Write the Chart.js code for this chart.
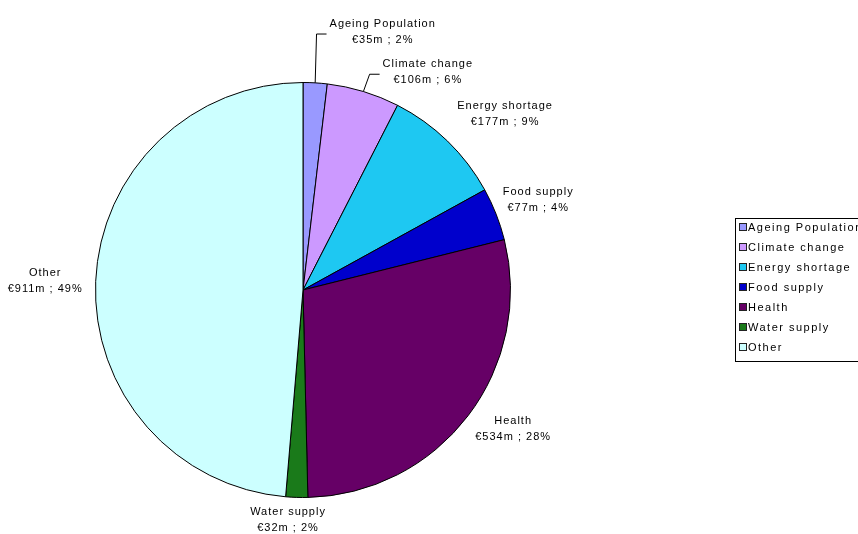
<!DOCTYPE html>
<html>
<head>
<meta charset="utf-8">
<script src="https://cdn.jsdelivr.net/npm/chart.js@4/dist/chart.umd.min.js"></script>
<style>
body{margin:0;background:#fff;}
canvas{display:block;}
</style>
</head>
<body>
<canvas id="pieChart" width="858" height="534"></canvas>
<script>

// values (€ millions)
const categories = ["Ageing Population","Climate change","Energy shortage","Food supply","Health","Water supply","Other"]
const amounts = [35,106,177,77,534,32,911]
const percentLabels = ["2%","6%","9%","4%","28%","2%","49%"]

const sliceColors = ["#9999FF","#CC99FF","#1EC8F2","#0000CC","#660066","#1A7A1A","#CCFFFF"]

const FONT = "11px 'Liberation Sans', Arial, sans-serif"

/* labels around the pie: [distance from centre, angle shift in degrees] */
const labelPlacement = [[270,13.8],[251,12.9],[268,4.8],[252,0.4],[252,-3.8],[230,2],[258,-0.3]]
const leaderFor = [true,true,false,false,false,false,false]

const pieLabels = {
id:"pieLabels",
afterDatasetsDraw(chart){
const ctx = chart.ctx
const arcs = chart.getDatasetMeta(0).data
ctx.save()
ctx.font = FONT
ctx.letterSpacing = "1px"
ctx.fillStyle = "#000"
ctx.strokeStyle = "#000"
ctx.lineWidth = 1
ctx.textAlign = "center"
ctx.textBaseline = "middle"
arcs.forEach((arc,i)=>{
const mid = (arc.startAngle + arc.endAngle)/2
const cx = arc.x, cy = arc.y, r = arc.outerRadius
const p = labelPlacement[i]
const a = mid + p[1]*Math.PI/180
const lx = cx + Math.cos(a)*p[0]
const ly = cy + Math.sin(a)*p[0]
const line1 = chart.data.labels[i]
const line2 = "€" + amounts[i] + "m ; " + percentLabels[i]
ctx.fillText(line1, lx, ly - 8)
ctx.fillText(line2, lx, ly + 8)
if(leaderFor[i]){
const w = Math.max(ctx.measureText(line1).width, ctx.measureText(line2).width)
const sx = cx + Math.cos(mid)*r
const sy = cy + Math.sin(mid)*r
const ex = lx - w/2 - 3
const ey = ly + 2
ctx.beginPath()
ctx.moveTo(sx, sy)
ctx.lineTo(ex - 10, ey)
ctx.lineTo(ex, ey)
ctx.stroke()
}
})
ctx.restore()
}
}

/* legend box on the right */
const boxLegend = {
id:"boxLegend",
afterDraw(chart){
const ctx = chart.ctx
const x = 735, y = 218, rowH = 20
ctx.save()
ctx.strokeStyle = "#000"
ctx.lineWidth = 1
ctx.strokeRect(x + 0.5, y + 0.5, 140, 143)
ctx.font = FONT
ctx.letterSpacing = "1.5px"
ctx.textBaseline = "middle"
ctx.fillStyle = "#000"
chart.data.labels.forEach((lab,i)=>{
const ry = y + 9 + i*rowH
ctx.fillStyle = sliceColors[i]
ctx.fillRect(739, ry - 3, 7, 7)
ctx.strokeStyle = "#222"
ctx.strokeRect(739.5, ry - 3.5, 7, 7)
ctx.fillStyle = "#000"
ctx.fillText(lab, 748, ry + 1)
})
ctx.restore()
}
}

new Chart(document.getElementById("pieChart"),{

type:"pie",

data:{
labels:categories,
datasets:[{
data:amounts,
backgroundColor:sliceColors,
borderColor:"#000",
borderWidth:1
}]
},

options:{
responsive:false,
animation:false,
devicePixelRatio:1,
layout:{padding:{top:82,bottom:36,left:95,right:347}},
plugins:{legend:{display:false},tooltip:{enabled:false}}
},

plugins:[pieLabels,boxLegend]

})

</script>
</body>
</html>
